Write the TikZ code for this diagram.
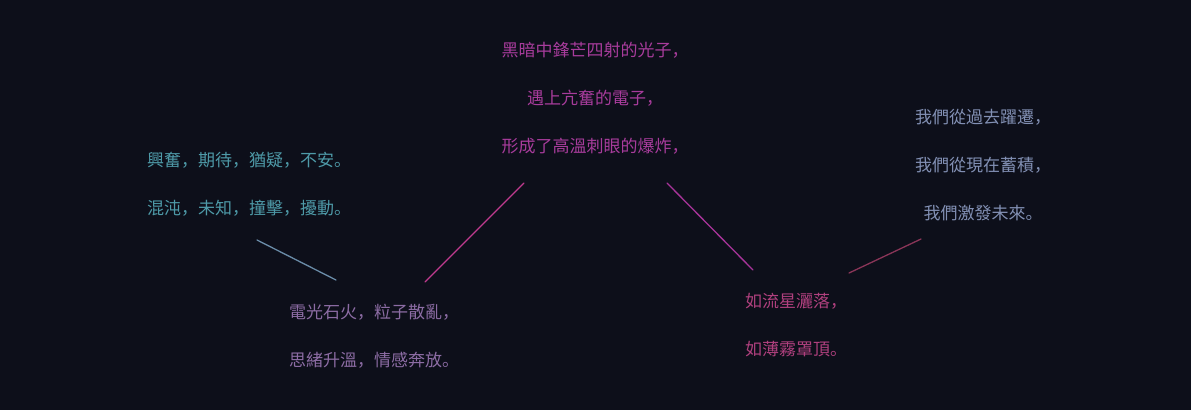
\documentclass[tikz,border=0pt]{standalone}
\usepackage{fontspec}
\newfontfamily\cjk{Noto Sans CJK SC}
\definecolor{bg}{HTML}{0D0F1A}
\definecolor{leftc}{HTML}{4E9AA8}
\definecolor{topc}{HTML}{A83C9C}
\definecolor{rightc}{HTML}{8290B4}
\definecolor{blc}{HTML}{8C6CA4}
\definecolor{brc}{HTML}{B0407E}
\definecolor{linka}{HTML}{6A8CA8}
\definecolor{linkb}{HTML}{C03A8E}
\definecolor{linkc}{HTML}{A8349A}
\definecolor{linkd}{HTML}{8A3558}
\begin{document}
\begin{tikzpicture}[x=1pt,y=-1pt,
  txt/.style={font=\cjk\fontsize{17}{48}\selectfont, align=center, inner sep=0pt},
  link/.style={line width=1.3pt, line cap=round}]
\fill[bg] (0,0) rectangle (1191,410);
\useasboundingbox (0,0) rectangle (1191,410);

\node[txt, text=leftc] (left) at (249,184) {興奮，期待，猶疑，不安。\\混沌，未知，撞擊，擾動。};
\node[txt, text=topc] (top) at (595,98) {黑暗中鋒芒四射的光子，\\遇上亢奮的電子，\\形成了高溫刺眼的爆炸，};
\node[txt, text=rightc] (right) at (983,165) {我們從過去躍遷，\\我們從現在蓄積，\\我們激發未來。};
\node[txt, text=blc] (bl) at (374,336) {電光石火，粒子散亂，\\思緒升溫，情感奔放。};
\node[txt, text=brc] (br) at (796,325) {如流星灑落，\\如薄霧罩頂。};

\coordinate (l1a) at (257,240);
\coordinate (l1b) at (336,280);
\coordinate (l2a) at (524,183);
\coordinate (l2b) at (425,282);
\coordinate (l3a) at (667,183);
\coordinate (l3b) at (753,270);
\coordinate (l4a) at (921,239);
\coordinate (l4b) at (849,273);

\draw[link, linka] (l1a) -- (l1b);
\draw[link, linkb] (l2a) -- (l2b);
\draw[link, linkc] (l3a) -- (l3b);
\draw[link, linkd] (l4a) -- (l4b);
\end{tikzpicture}
\end{document}
